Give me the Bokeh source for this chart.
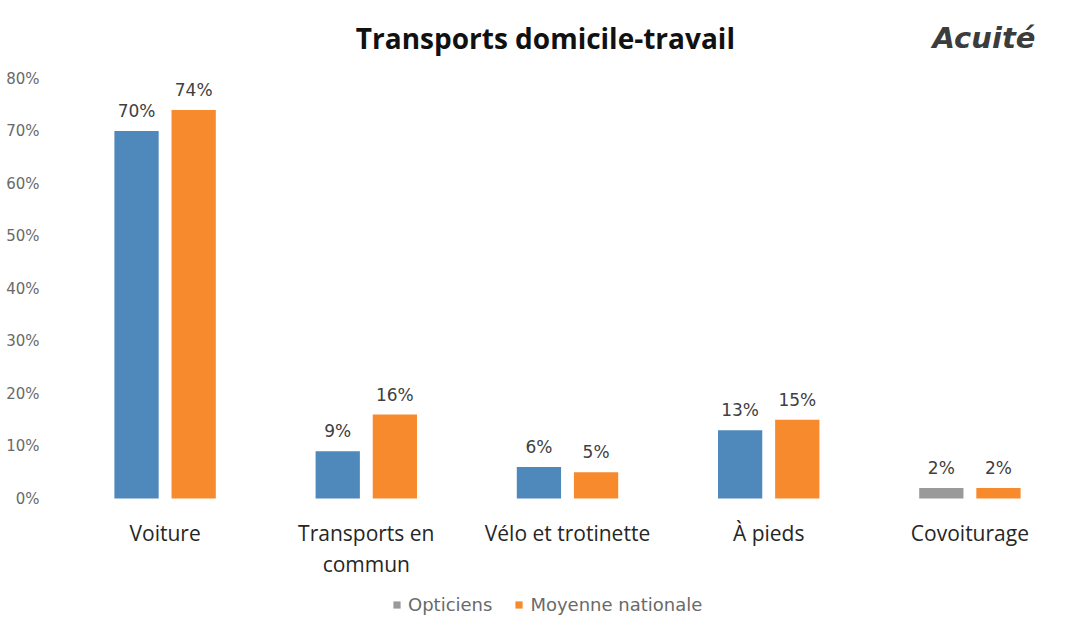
from bokeh.plotting import figure
from bokeh.models import (ColumnDataSource, LabelSet, Label, Legend, LegendItem,
                          NumeralTickFormatter, FixedTicker, Range1d)
from bokeh.core.properties import value
from bokeh.transform import dodge
from bokeh.embed import file_html
from bokeh.resources import INLINE

categories = ["Voiture", "Transports en\ncommun", "Vélo et trotinette", "À pieds", "Covoiturage"]
opticiens = [0.70, 0.09, 0.06, 0.13, 0.02]
moyenne = [0.74, 0.16, 0.05, 0.15, 0.02]
opticiens_colors = ["#4F88BB", "#4F88BB", "#4F88BB", "#4F88BB", "#9A9A9A"]
y_ticks = [0, 0.1, 0.2, 0.3, 0.4, 0.5, 0.6, 0.7, 0.8]

src = ColumnDataSource(dict(
    cat=categories,
    line1=[c.split("\n")[0] for c in categories],
    line2=[(c.split("\n") + [""])[1] for c in categories],
    opt=opticiens,
    moy=moyenne,
    opt_col=opticiens_colors,
    opt_lbl=[f"{round(v*100)}%" for v in opticiens],
    moy_lbl=[f"{round(v*100)}%" for v in moyenne],
))

W, H = 1088, 631
# frame spans the full height: 0% sits 498px from the top, 10% = 52.5px
y_top = 498 / 525
y_bot = -(H - 498) / 525

p = figure(x_range=categories, y_range=Range1d(y_bot, y_top), width=W, height=H,
           output_backend="svg", toolbar_location=None,
           min_border_left=64, min_border_right=18, min_border_top=0, min_border_bottom=0)
p.outline_line_color = None
p.xgrid.grid_line_color = None
p.ygrid.grid_line_color = None
p.x_range.range_padding = 0
p.xaxis.visible = False

r_opt = p.vbar(x=dodge("cat", -0.142, range=p.x_range), top="opt", width=0.22,
               source=src, fill_color="opt_col", line_color=None)
r_moy = p.vbar(x=dodge("cat", 0.142, range=p.x_range), top="moy", width=0.22,
               source=src, fill_color="#F68A2C", line_color=None)

for col, lbl, off in (("opt", "opt_lbl", -0.142), ("moy", "moy_lbl", 0.142)):
    p.add_layout(LabelSet(x=dodge("cat", off, range=p.x_range), y=col, text=lbl, source=src,
                          text_align="center", text_baseline="bottom", y_offset=10,
                          text_font=value("DejaVu Sans"), text_font_size=value("17px"),
                          text_color=value("#404040")))

# category labels under the bars (two lines where wrapped)
for field, off in (("line1", -34), ("line2", -65)):
    p.add_layout(LabelSet(x="cat", y=0, y_offset=off, text=field, source=src,
                          text_align="center", text_baseline="middle",
                          text_font=value("Open Sans"), text_font_size=value("21px"),
                          text_color=value("#262626")))

p.yaxis.ticker = FixedTicker(ticks=y_ticks)
p.yaxis.formatter = NumeralTickFormatter(format="0%")
p.yaxis.axis_line_color = None
p.yaxis.major_tick_line_color = None
p.yaxis.minor_tick_line_color = None
p.yaxis.major_label_text_font = "DejaVu Sans"
p.yaxis.major_label_text_font_size = "15px"
p.yaxis.major_label_text_color = "#6A6A6A"
p.yaxis.major_label_standoff = 19

p.add_layout(Label(x=2.39, y=0.878, text="Transports domicile-travail", text_align="center",
                   text_baseline="middle", text_font="Open Sans", text_font_style="bold",
                   text_font_size="28px", text_color="#111111"))
p.add_layout(Label(x=4.57, y=0.878, text="Acuité", text_align="center",
                   text_baseline="middle", text_font="DejaVu Sans", text_font_style="bold italic",
                   text_font_size="29px", text_color="#3C3C3C"))

legend = Legend(items=[LegendItem(label="Opticiens", renderers=[r_opt], index=4),
                       LegendItem(label="Moyenne nationale", renderers=[r_moy])],
                orientation="horizontal", location=(328, 16),
                label_text_font="DejaVu Sans", label_text_font_size="18px", label_text_color="#6A6A6A",
                glyph_width=9, glyph_height=9, spacing=22, label_standoff=7,
                padding=4, margin=0,
                background_fill_alpha=0, border_line_color=None)
p.add_layout(legend, "center")

open("out.html", "w").write(file_html(p, INLINE))
